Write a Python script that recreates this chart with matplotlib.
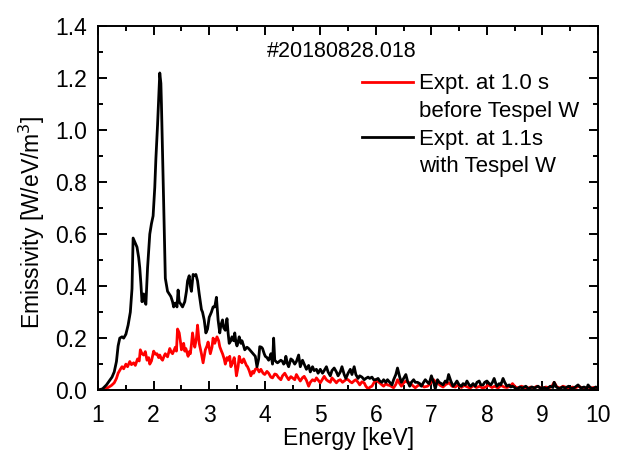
import matplotlib
matplotlib.use("Agg")
import matplotlib.pyplot as plt
from matplotlib.ticker import MultipleLocator
from matplotlib.lines import Line2D

plt.rcParams['font.family'] = ['Liberation Sans', 'DejaVu Sans']

shot_label = "#20180828.018"
label_before = ["Expt. at 1.0 s", "before Tespel W"]
label_with = ["Expt. at 1.1s", "with Tespel W"]

# Spectrum at 1.0 s (before TESPEL injection)
energy_before = [
    1.00, 1.08, 1.18, 1.24, 1.29, 1.33, 1.36, 1.40, 1.43, 1.46, 1.50, 1.53, 1.57, 1.60,
    1.64, 1.67, 1.71, 1.74, 1.76, 1.79, 1.82, 1.85, 1.88, 1.91, 1.93, 1.96, 2.00, 2.03,
    2.06, 2.09, 2.11, 2.14, 2.16, 2.19, 2.21, 2.25, 2.29, 2.32, 2.34, 2.37, 2.39, 2.41,
    2.43, 2.46, 2.48, 2.50, 2.52, 2.54, 2.56, 2.58, 2.60, 2.62, 2.64, 2.66, 2.68, 2.70,
    2.72, 2.74, 2.77, 2.79, 2.82, 2.84, 2.86, 2.89, 2.91, 2.93, 2.96, 2.98, 3.02, 3.05,
    3.07, 3.10, 3.14, 3.17, 3.19, 3.22, 3.24, 3.27, 3.29, 3.32, 3.34, 3.37, 3.39, 3.42,
    3.45, 3.47, 3.49, 3.52, 3.54, 3.57, 3.59, 3.62, 3.64, 3.67, 3.69, 3.72, 3.75, 3.78,
    3.80, 3.83, 3.86, 3.90, 3.93, 3.97, 4.00, 4.04, 4.07, 4.11, 4.14, 4.18, 4.21, 4.25,
    4.29, 4.32, 4.36, 4.40, 4.43, 4.47, 4.50, 4.54, 4.57, 4.61, 4.64, 4.68, 4.71, 4.75,
    4.79, 4.82, 4.86, 4.90, 4.93, 4.97, 5.00, 5.04, 5.07, 5.11, 5.14, 5.18, 5.21, 5.25,
    5.29, 5.32, 5.36, 5.40, 5.43, 5.47, 5.50, 5.54, 5.57, 5.61, 5.64, 5.68, 5.71, 5.75,
    5.79, 5.82, 5.86, 5.90, 5.93, 5.97, 6.00, 6.04, 6.07, 6.11, 6.14, 6.18, 6.21, 6.25,
    6.32, 6.36, 6.39, 6.43, 6.46, 6.50, 6.54, 6.57, 6.61, 6.66, 6.71, 6.76, 6.82, 6.87,
    6.93, 6.98, 7.04, 7.08, 7.11, 7.16, 7.21, 7.26, 7.32, 7.37, 7.43, 7.48, 7.54, 7.59,
    7.65, 7.70, 7.76, 7.81, 7.87, 7.92, 7.98, 8.03, 8.09, 8.14, 8.20, 8.25, 8.31, 8.36,
    8.42, 8.46, 8.51, 8.57, 8.62, 8.68, 8.73, 8.79, 8.84, 8.90, 8.95, 9.01, 9.06, 9.12,
    9.17, 9.21, 9.26, 9.32, 9.37, 9.43, 9.48, 9.54, 9.59, 9.65, 9.70, 9.76, 9.81, 9.87,
    9.92, 10.00,
]
emis_before = [
    0.000, 0.002, 0.010, 0.018, 0.028, 0.045, 0.065, 0.080, 0.090, 0.082, 0.100, 0.090, 0.110, 0.098,
    0.105, 0.095, 0.120, 0.112, 0.155, 0.140, 0.135, 0.148, 0.115, 0.125, 0.100, 0.112, 0.150, 0.138,
    0.140, 0.125, 0.135, 0.120, 0.115, 0.132, 0.140, 0.128, 0.160, 0.145, 0.140, 0.155, 0.165, 0.150,
    0.235, 0.220, 0.190, 0.155, 0.175, 0.180, 0.150, 0.160, 0.145, 0.130, 0.148, 0.140, 0.175, 0.220,
    0.190, 0.165, 0.200, 0.250, 0.180, 0.160, 0.140, 0.105, 0.130, 0.155, 0.170, 0.185, 0.140, 0.165,
    0.200, 0.180, 0.205, 0.190, 0.167, 0.150, 0.140, 0.120, 0.100, 0.125, 0.115, 0.130, 0.090, 0.105,
    0.125, 0.095, 0.055, 0.090, 0.130, 0.110, 0.105, 0.120, 0.110, 0.095, 0.090, 0.075, 0.055, 0.072,
    0.065, 0.080, 0.085, 0.070, 0.080, 0.065, 0.060, 0.072, 0.065, 0.050, 0.047, 0.062, 0.060, 0.048,
    0.040, 0.055, 0.065, 0.050, 0.040, 0.052, 0.047, 0.040, 0.060, 0.045, 0.035, 0.048, 0.053, 0.038,
    0.015, 0.030, 0.040, 0.035, 0.047, 0.036, 0.028, 0.042, 0.053, 0.040, 0.035, 0.030, 0.047, 0.038,
    0.028, 0.036, 0.040, 0.030, 0.035, 0.042, 0.040, 0.032, 0.028, 0.036, 0.040, 0.030, 0.020, 0.032,
    0.028, 0.015, 0.005, 0.012, 0.015, 0.030, 0.040, 0.032, 0.028, 0.020, 0.015, 0.025, 0.020, 0.018,
    0.009, 0.022, 0.040, 0.025, 0.015, 0.028, 0.035, 0.030, 0.028, 0.018, 0.009, 0.018, 0.020, 0.012,
    0.015, 0.025, 0.040, 0.030, 0.028, 0.018, 0.012, 0.022, 0.028, 0.015, 0.012, 0.020, 0.010, 0.018,
    0.012, 0.008, 0.018, 0.010, 0.015, 0.008, 0.012, 0.020, 0.010, 0.015, 0.008, 0.018, 0.012, 0.010,
    0.015, 0.025, 0.012, 0.008, 0.015, 0.010, 0.006, 0.012, 0.008, 0.015, 0.010, 0.006, 0.012, 0.008,
    0.015, 0.030, 0.012, 0.008, 0.015, 0.010, 0.006, 0.012, 0.008, 0.015, 0.010, 0.006, 0.012, 0.008,
    0.010, 0.005,
]

# Spectrum at 1.1 s (with TESPEL tungsten)
energy_with = [
    1.00, 1.08, 1.15, 1.20, 1.25, 1.29, 1.33, 1.36, 1.39, 1.43, 1.46, 1.50, 1.54, 1.58,
    1.61, 1.63, 1.66, 1.70, 1.73, 1.75, 1.77, 1.79, 1.82, 1.84, 1.86, 1.89, 1.93, 1.96,
    1.99, 2.02, 2.04, 2.07, 2.09, 2.11, 2.13, 2.14, 2.16, 2.18, 2.21, 2.25, 2.28, 2.31,
    2.34, 2.36, 2.39, 2.42, 2.44, 2.46, 2.49, 2.52, 2.56, 2.59, 2.61, 2.64, 2.66, 2.68,
    2.71, 2.74, 2.76, 2.79, 2.82, 2.86, 2.88, 2.91, 2.94, 2.97, 3.00, 3.04, 3.07, 3.10,
    3.13, 3.16, 3.19, 3.21, 3.24, 3.26, 3.29, 3.32, 3.34, 3.36, 3.39, 3.41, 3.44, 3.46,
    3.48, 3.50, 3.52, 3.54, 3.57, 3.59, 3.62, 3.64, 3.68, 3.71, 3.75, 3.79, 3.83, 3.86,
    3.89, 3.91, 3.94, 3.96, 3.99, 4.01, 4.04, 4.07, 4.09, 4.11, 4.14, 4.16, 4.18, 4.21,
    4.23, 4.26, 4.29, 4.32, 4.34, 4.36, 4.38, 4.41, 4.43, 4.47, 4.50, 4.54, 4.57, 4.61,
    4.64, 4.68, 4.71, 4.75, 4.79, 4.82, 4.86, 4.89, 4.93, 4.96, 5.00, 5.04, 5.07, 5.11,
    5.14, 5.18, 5.21, 5.25, 5.29, 5.32, 5.36, 5.39, 5.43, 5.46, 5.50, 5.54, 5.57, 5.61,
    5.64, 5.68, 5.71, 5.75, 5.79, 5.82, 5.86, 5.89, 5.93, 5.96, 6.00, 6.04, 6.07, 6.11,
    6.14, 6.18, 6.21, 6.25, 6.29, 6.32, 6.36, 6.39, 6.43, 6.46, 6.50, 6.54, 6.57, 6.61,
    6.64, 6.68, 6.71, 6.75, 6.79, 6.82, 6.86, 6.89, 6.93, 6.96, 7.00, 7.04, 7.07, 7.11,
    7.14, 7.18, 7.21, 7.25, 7.28, 7.31, 7.35, 7.39, 7.43, 7.46, 7.50, 7.54, 7.57, 7.61,
    7.64, 7.68, 7.71, 7.75, 7.79, 7.82, 7.86, 7.89, 7.93, 7.96, 8.00, 8.04, 8.07, 8.10,
    8.13, 8.16, 8.18, 8.22, 8.25, 8.29, 8.32, 8.36, 8.40, 8.43, 8.46, 8.50, 8.54, 8.59,
    8.64, 8.70, 8.75, 8.81, 8.86, 8.92, 8.97, 9.03, 9.08, 9.14, 9.19, 9.21, 9.25, 9.30,
    9.36, 9.41, 9.47, 9.52, 9.58, 9.64, 9.69, 9.75, 9.80, 9.82, 9.86, 9.91, 9.96, 10.00,
]
emis_with = [
    0.000, 0.005, 0.020, 0.035, 0.050, 0.070, 0.110, 0.170, 0.200, 0.205, 0.200, 0.215, 0.250, 0.300,
    0.390, 0.585, 0.570, 0.550, 0.510, 0.470, 0.410, 0.340, 0.370, 0.340, 0.330, 0.470, 0.600, 0.640,
    0.670, 0.780, 0.890, 1.020, 1.120, 1.220, 1.180, 1.100, 0.900, 0.720, 0.430, 0.380, 0.370, 0.360,
    0.340, 0.320, 0.335, 0.320, 0.385, 0.340, 0.330, 0.320, 0.340, 0.380, 0.420, 0.440, 0.400, 0.380,
    0.445, 0.440, 0.445, 0.420, 0.370, 0.310, 0.300, 0.270, 0.220, 0.235, 0.280, 0.300, 0.320, 0.320,
    0.357, 0.270, 0.220, 0.250, 0.270, 0.240, 0.230, 0.275, 0.220, 0.180, 0.190, 0.205, 0.190, 0.220,
    0.185, 0.170, 0.185, 0.205, 0.180, 0.190, 0.170, 0.155, 0.165, 0.160, 0.150, 0.140, 0.130, 0.090,
    0.120, 0.167, 0.165, 0.160, 0.140, 0.130, 0.125, 0.115, 0.125, 0.140, 0.100, 0.200, 0.115, 0.108,
    0.105, 0.110, 0.115, 0.110, 0.100, 0.105, 0.130, 0.100, 0.090, 0.120, 0.115, 0.100, 0.110, 0.135,
    0.090, 0.115, 0.100, 0.080, 0.095, 0.070, 0.090, 0.075, 0.080, 0.065, 0.080, 0.065, 0.075, 0.090,
    0.070, 0.055, 0.075, 0.085, 0.070, 0.055, 0.070, 0.090, 0.060, 0.045, 0.065, 0.080, 0.060, 0.090,
    0.060, 0.045, 0.055, 0.050, 0.040, 0.045, 0.050, 0.045, 0.050, 0.040, 0.040, 0.045, 0.035, 0.030,
    0.040, 0.030, 0.040, 0.030, 0.020, 0.040, 0.060, 0.085, 0.050, 0.030, 0.045, 0.060, 0.035, 0.015,
    0.030, 0.040, 0.030, 0.030, 0.025, 0.015, 0.030, 0.040, 0.030, 0.025, 0.055, 0.030, 0.005, 0.040,
    0.030, 0.025, 0.020, 0.035, 0.030, 0.060, 0.035, 0.015, 0.025, 0.035, 0.020, 0.015, 0.025, 0.020,
    0.035, 0.020, 0.015, 0.025, 0.015, 0.030, 0.035, 0.020, 0.020, 0.030, 0.035, 0.025, 0.020, 0.030,
    0.045, 0.025, 0.015, 0.025, 0.020, 0.045, 0.030, 0.015, 0.020, 0.012, 0.015, 0.010, 0.003, 0.012,
    0.008, 0.015, 0.005, 0.012, 0.008, 0.015, 0.006, 0.010, 0.005, 0.015, 0.010, 0.030, 0.012, 0.005,
    0.012, 0.008, 0.015, 0.006, 0.010, 0.020, 0.008, 0.012, 0.006, 0.020, 0.010, 0.005, 0.012, 0.008,
]

fig = plt.figure(figsize=(6.21, 4.51), dpi=100)
ax = fig.add_axes([0.158, 0.135, 0.805, 0.807])

line_before, = ax.plot(energy_before, emis_before, color='#ff0000', lw=2.0)
line_with, = ax.plot(energy_with, emis_with, color='black', lw=2.0)

ax.set_xlim(1, 10)
ax.set_ylim(0, 1.4)
ax.xaxis.set_major_locator(MultipleLocator(1))
ax.xaxis.set_minor_locator(MultipleLocator(0.5))
ax.yaxis.set_major_locator(MultipleLocator(0.2))
ax.yaxis.set_minor_locator(MultipleLocator(0.1))
ax.yaxis.set_major_formatter(plt.FormatStrFormatter('%.1f'))

ax.tick_params(which='both', direction='in', top=True, right=True, width=1.4)
ax.tick_params(which='major', length=6.5, labelsize=16.5)
ax.tick_params(axis='x', which='major', pad=10)
ax.tick_params(axis='y', which='major', pad=8)
ax.tick_params(which='minor', length=3.5)
for s in ax.spines.values():
    s.set_linewidth(1.4)

ax.set_xlabel('Energy [keV]', fontsize=16.5, labelpad=0)
ax.set_ylabel('Emissivity [W/eV/m$^3$]', fontsize=16.5)
ax.yaxis.set_label_coords(-0.102, 0.46)

ax.text(0.487, 0.93, shot_label, transform=ax.transAxes, ha='center', va='center', fontsize=15.5)

# Legend: each entry's handle sits beside the first line of its two-line label
blank = Line2D([], [], color='none')
handles = [line_before, blank, line_with, blank]
labels = [label_before[0], label_before[1], label_with[0], label_with[1]]
ax.legend(handles, labels, loc='upper left', bbox_to_anchor=(0.528, 0.87), frameon=False,
          fontsize=16, handlelength=2.3, handletextpad=0.25, labelspacing=0.3,
          borderpad=0, borderaxespad=0)

fig.savefig('out.png', dpi=100)
